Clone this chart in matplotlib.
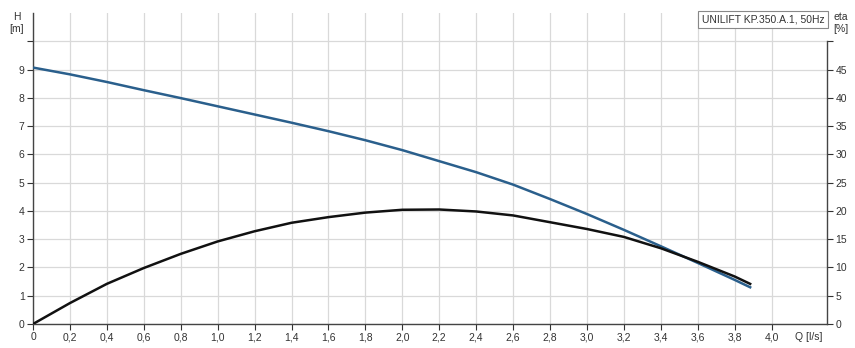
import numpy as np
import matplotlib
matplotlib.use('Agg')
import matplotlib.pyplot as plt

plt.rcParams['font.family'] = ['Liberation Sans', 'DejaVu Sans']

q = [0.0, 0.2, 0.4, 0.6, 0.8, 1.0, 1.2, 1.4, 1.6, 1.8, 2.0,
     2.2, 2.4, 2.6, 2.8, 3.0, 3.2, 3.4, 3.6, 3.8, 3.89]
head = [9.07, 8.83, 8.56, 8.27, 7.99, 7.70, 7.41, 7.12, 6.82, 6.50, 6.15,
        5.76, 5.37, 4.93, 4.42, 3.89, 3.33, 2.75, 2.16, 1.56, 1.28]
eta = [0.0, 3.7, 7.1, 9.9, 12.4, 14.6, 16.4, 17.9, 18.9, 19.7, 20.2,
       20.25, 19.9, 19.2, 18.0, 16.8, 15.4, 13.4, 11.0, 8.4, 7.0]
pump_name = 'UNILIFT KP.350.A.1, 50Hz'

x_ticks = np.round(np.arange(0, 4.01, 0.2), 1)
x_labels = ['0'] + [f'{v:.1f}'.replace('.', ',') for v in x_ticks[1:]]

fig = plt.figure(figsize=(8.55, 3.48), dpi=100)
ax = fig.add_axes([33/855, 24/348, 794/855, 311/348])
ax2 = ax.twinx()

ax.set_xlim(0, 4.3)
ax.set_ylim(0, 11)
ax2.set_ylim(0, 55)

ax.set_xticks(x_ticks)
ax.set_xticklabels(x_labels)
ax.set_yticks(range(0, 11))
ax.set_yticklabels([str(i) for i in range(0, 10)] + [''])
ax2.set_yticks(range(0, 51, 5))
ax2.set_yticklabels([str(i) for i in range(0, 50, 5)] + [''])

ax.grid(True, color='#d9d9d9', linewidth=0.9)
ax.set_axisbelow(True)
for a in (ax, ax2):
    a.spines['top'].set_visible(False)
    for s in ('left', 'bottom', 'right'):
        a.spines[s].set_color('#444444')
        a.spines[s].set_linewidth(1.0)
    a.tick_params(labelsize=7.5, colors='#333333', length=4, width=0.8, pad=2)
ax2.spines['left'].set_visible(False)
ax2.spines['bottom'].set_visible(False)
ax.spines['right'].set_visible(False)
ax2.spines['right'].set_bounds(0, 50)

ax.plot(q, head, color='#2a5f8c', linewidth=1.8, solid_capstyle='butt', zorder=3)
ax2.plot(q, eta, color='#111111', linewidth=1.8, solid_capstyle='butt', zorder=3)

ax.text(-0.09, 10.65, 'H\n[m]', ha='center', va='center', fontsize=7.5, color='#333333',
        linespacing=1.25)
ax.text(4.375, 10.65, 'eta\n[%]', ha='center', va='center', fontsize=7.5, color='#333333',
        linespacing=1.25)
ax.text(4.2, -0.3, 'Q [l/s]', ha='center', va='top', fontsize=7.5, color='#333333')

ax.text(4.285, 10.95, pump_name, ha='right', va='top', fontsize=7.5, color='#333333',
        bbox=dict(boxstyle='square,pad=0.35', facecolor='white', edgecolor='#888888',
                  linewidth=0.8), zorder=5)

fig.savefig('out.png', dpi=100)
